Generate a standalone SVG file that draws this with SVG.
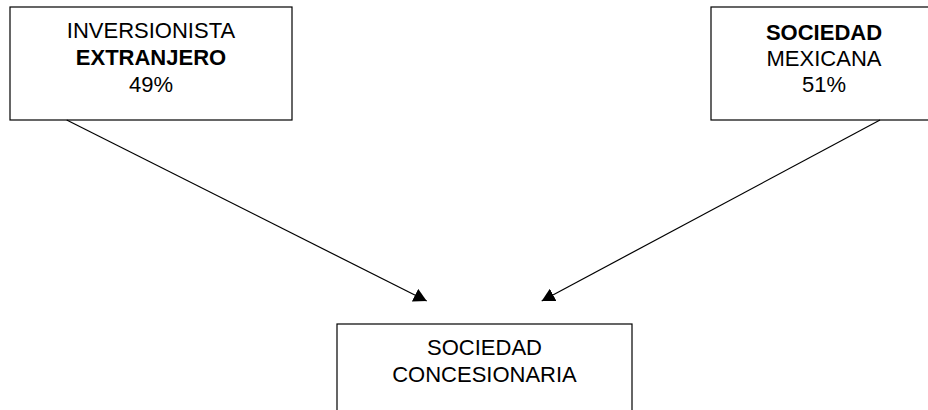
<svg xmlns="http://www.w3.org/2000/svg" width="928" height="410" viewBox="0 0 928 410">
  <style>
    .box { fill: #ffffff; stroke: #000000; stroke-width: 1.2; }
    .lbl { font-family: "Liberation Sans", Arial, sans-serif; font-size: 22px; fill: #000000; text-anchor: middle; }
    .b { font-weight: bold; }
    .link { stroke: #000000; stroke-width: 1.2; fill: none; marker-end: url(#head); }
  </style>
  <defs>
    <marker id="head" markerUnits="userSpaceOnUse" viewBox="0 0 14 14" markerWidth="14" markerHeight="14" refX="13" refY="7" orient="auto">
      <path d="M0,0 L13,7 L0,14 Z" fill="#000000"/>
    </marker>
  </defs>
  <rect width="928" height="410" fill="#ffffff"/>

  <g id="inversionista">
    <rect class="box" x="10" y="7" width="282" height="113"/>
    <text class="lbl" x="151" y="38">INVERSIONISTA</text>
    <text class="lbl b" x="151" y="65">EXTRANJERO</text>
    <text class="lbl" x="151" y="92">49%</text>
  </g>

  <g id="sociedad-mexicana">
    <rect class="box" x="711" y="7" width="226" height="113"/>
    <text class="lbl b" x="824" y="40">SOCIEDAD</text>
    <text class="lbl" x="824" y="66">MEXICANA</text>
    <text class="lbl" x="824" y="92">51%</text>
  </g>

  <g id="concesionaria">
    <rect class="box" x="337" y="324" width="295" height="120"/>
    <text class="lbl" x="484.5" y="355">SOCIEDAD</text>
    <text class="lbl" x="484.5" y="382">CONCESIONARIA</text>
  </g>

  <g id="connectors">
    <line class="link" x1="66.7" y1="120" x2="426.7" y2="301"/>
    <line class="link" x1="880" y1="120" x2="541.7" y2="301"/>
  </g>
</svg>
